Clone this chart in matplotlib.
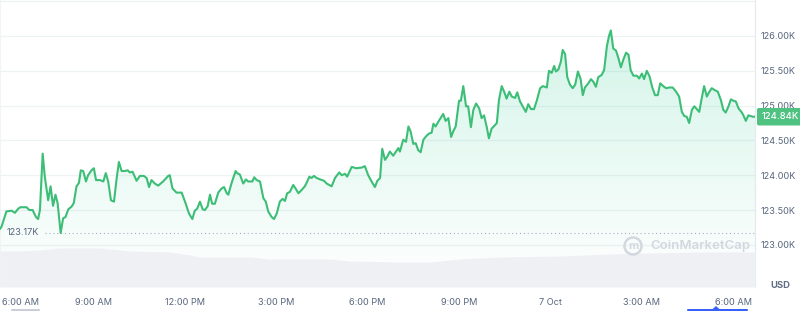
import matplotlib.pyplot as plt
import numpy as np
from matplotlib.colors import LinearSegmentedColormap
from matplotlib.patches import Circle, FancyBboxPatch, Polygon

plt.rcParams['font.family'] = ['Inter', 'DejaVu Sans']

# BTC price (thousand USD), hours after 6:00 AM on 6 Oct
hours = [-0.06, -0.01, 0.15, 0.32, 0.43, 0.54, 0.61, 0.81, 0.90, 1.01,
         1.12, 1.19, 1.25, 1.34, 1.41, 1.52, 1.60, 1.68, 1.76, 1.83,
         1.93, 2.01, 2.09, 2.18, 2.29, 2.36, 2.45, 2.53, 2.59, 2.67,
         2.76, 2.83, 2.94, 3.02, 3.09, 3.22, 3.33, 3.41, 3.49, 3.58,
         3.68, 3.76, 3.84, 3.93, 4.04, 4.13, 4.20, 4.29, 4.42, 4.53,
         4.66, 4.75, 4.83, 4.91, 5.02, 5.13, 5.29, 5.46, 5.51, 5.60,
         5.73, 5.90, 6.01, 6.14, 6.25, 6.33, 6.41, 6.50, 6.59, 6.66,
         6.75, 6.83, 6.90, 6.99, 7.10, 7.21, 7.29, 7.38, 7.43, 7.54,
         7.67, 7.72, 7.81, 7.92, 8.01, 8.08, 8.22, 8.28, 8.36, 8.47,
         8.58, 8.66, 8.74, 8.85, 8.93, 9.02, 9.12, 9.21, 9.29, 9.36,
         9.45, 9.56, 9.65, 9.73, 9.84, 9.94, 10.02, 10.09, 10.16, 10.24,
         10.33, 10.44, 10.57, 10.66, 10.82, 10.93, 11.07, 11.15, 11.26, 11.33,
         11.48, 11.62, 11.81, 11.91, 12.02, 12.13, 12.24, 12.32, 12.41, 12.48,
         12.57, 12.65, 12.73, 12.84, 13.01, 13.06, 13.17, 13.26, 13.34, 13.41,
         13.50, 13.58, 13.66, 13.74, 13.83, 13.92, 14.02, 14.10, 14.16, 14.23,
         14.35, 14.48, 14.56, 14.65, 14.74, 14.81, 14.89, 15.00, 15.06, 15.14,
         15.23, 15.30, 15.39, 15.47, 15.56, 15.66, 15.74, 15.82, 15.91, 15.98,
         16.07, 16.16, 16.24, 16.31, 16.40, 16.48, 16.56, 16.65, 16.73, 16.84,
         16.91, 17.00, 17.09, 17.19, 17.27, 17.36, 17.46, 17.55, 17.66, 17.75,
         17.88, 17.95, 18.04, 18.12, 18.18, 18.26, 18.34, 18.40, 18.48, 18.55,
         18.64, 18.73, 18.81, 18.90, 18.99, 19.06, 19.13, 19.24, 19.33, 19.41,
         19.49, 19.57, 19.68, 19.76, 19.85, 19.92, 19.98, 20.06, 20.15, 20.23,
         20.31, 20.39, 20.48, 20.56, 20.63, 20.72, 20.83, 20.91, 21.00, 21.07,
         21.16, 21.25, 21.34, 21.43, 21.52, 21.60, 21.70, 21.79, 21.90, 22.01,
         22.12, 22.22, 22.31, 22.39, 22.47, 22.55, 22.64, 22.72, 22.80, 22.88,
         22.96, 23.04, 23.13, 23.20, 23.29, 23.40, 23.49, 23.59, 23.67, 23.75,
         23.84, 23.92, 24.00, 24.08, 24.17, 24.28, 24.33, 24.41, 24.49, 24.64,
         24.71]
prices = [123.23, 123.26, 123.48, 123.49, 123.46, 123.52, 123.54, 123.54, 123.50, 123.50,
          123.40, 123.37, 123.50, 124.31, 123.98, 123.64, 123.84, 123.56, 123.72, 123.60,
          123.17, 123.38, 123.40, 123.51, 123.55, 123.60, 123.84, 123.89, 124.07, 124.06,
          123.91, 124.00, 124.07, 124.10, 123.93, 123.93, 123.91, 124.03, 123.91, 123.64,
          123.62, 123.93, 124.19, 124.06, 124.06, 124.07, 124.04, 124.05, 123.92, 123.99,
          123.99, 123.96, 123.83, 123.93, 123.88, 123.85, 123.91, 123.99, 124.00, 123.81,
          123.75, 123.75, 123.62, 123.45, 123.37, 123.49, 123.52, 123.62, 123.51, 123.50,
          123.55, 123.72, 123.59, 123.59, 123.75, 123.81, 123.83, 123.74, 123.72, 123.89,
          124.06, 124.03, 124.01, 123.88, 123.94, 123.91, 123.91, 123.97, 123.93, 123.91,
          123.67, 123.62, 123.48, 123.40, 123.37, 123.45, 123.62, 123.66, 123.63, 123.74,
          123.76, 123.86, 123.80, 123.74, 123.79, 123.84, 123.91, 123.98, 123.96, 123.99,
          123.96, 123.94, 123.92, 123.88, 123.84, 123.96, 124.04, 124.00, 124.02, 123.98,
          124.12, 124.10, 124.11, 124.13, 124.00, 123.91, 123.83, 123.92, 123.96, 124.38,
          124.22, 124.27, 124.34, 124.28, 124.39, 124.34, 124.51, 124.48, 124.70, 124.63,
          124.45, 124.46, 124.36, 124.33, 124.51, 124.56, 124.60, 124.61, 124.74, 124.70,
          124.79, 124.88, 124.78, 124.82, 124.55, 124.63, 124.70, 125.07, 125.07, 125.28,
          124.99, 124.99, 124.69, 124.94, 125.03, 124.96, 124.82, 124.86, 124.69, 124.53,
          124.67, 124.71, 124.75, 125.08, 125.28, 125.20, 125.10, 125.20, 125.13, 125.11,
          125.19, 125.06, 124.99, 124.91, 125.02, 124.95, 124.95, 125.07, 125.25, 125.28,
          125.26, 125.50, 125.47, 125.57, 125.49, 125.52, 125.63, 125.80, 125.74, 125.41,
          125.30, 125.25, 125.30, 125.49, 125.38, 125.15, 125.26, 125.32, 125.38, 125.34,
          125.27, 125.41, 125.44, 125.51, 125.85, 126.00, 126.08, 125.82, 125.79, 125.68,
          125.55, 125.66, 125.76, 125.73, 125.51, 125.43, 125.43, 125.39, 125.46, 125.38,
          125.50, 125.42, 125.26, 125.15, 125.15, 125.32, 125.28, 125.25, 125.26, 125.26,
          125.20, 125.13, 124.91, 124.85, 124.84, 124.75, 124.94, 124.99, 124.95, 124.91,
          125.10, 125.28, 125.13, 125.19, 125.25, 125.22, 125.20, 125.08, 124.94, 124.90,
          124.99, 125.09, 125.07, 125.06, 124.96, 124.90, 124.86, 124.78, 124.86, 124.84,
          124.84]

# 24h volume (billion USD)
vol_hours = [-0.06, 0.59, 1.25, 1.90, 3.22, 3.54, 4.20, 5.51, 6.17, 6.50, 8.14, 8.80,
             10.76, 11.42, 13.06, 14.05, 15.03, 16.34, 18.31, 19.95, 21.27, 22.91, 24.71]
vol_values = [72, 72, 74, 78, 78, 76, 72, 70, 64, 60, 60, 56,
              56, 52, 50, 50, 56, 60, 62, 66, 68, 70, 70]

tick_hours = [0, 3, 6, 9, 12, 15, 18, 21, 24]
tick_labels = ['6:00 AM', '9:00 AM', '12:00 PM', '3:00 PM', '6:00 PM',
               '9:00 PM', '7 Oct', '3:00 AM', '6:00 AM']
price_ticks = [123.0, 123.5, 124.0, 124.5, 125.0, 125.5, 126.0]

W, H = 800, 311
grey = '#58667e'
green = '#3dbe77'

fig = plt.figure(figsize=(8, 3.11), dpi=100)
ax = fig.add_axes([0, 24 / H, 755 / W, 287 / H])
ax.set_xlim(hours[0], hours[-1])
ax.set_ylim(122.394, 126.517)

# volume on a twin axis (twinx resets tick side, so style ax afterwards)
ax2 = ax.twinx()
ax2.set_ylim(0, 574)
ax2.fill_between(vol_hours, vol_values, color='#eff0f4', lw=0)
ax2.set_axis_off()

# grid
for level in price_ticks + [126.5]:
    ax.axhline(level, color='#eff2f5', lw=0.9, zorder=0)

# gradient fill under the line
cmap = LinearSegmentedColormap.from_list('g', [(0.09, 0.78, 0.52, 0.0), (0.09, 0.78, 0.52, 0.2)])
grad = np.linspace(0, 1, 256).reshape(-1, 1)
img = ax.imshow(grad, cmap=cmap, aspect='auto', origin='lower',
                extent=[hours[0], hours[-1], 122.394, 126.3], zorder=1)
poly = Polygon(list(zip(hours, prices)) + [(hours[-1], 122.394), (hours[0], 122.394)],
               closed=True, fc='none', ec='none')
ax.add_patch(poly)
img.set_clip_path(poly)

ax.plot(hours, prices, color=green, lw=1.5, zorder=3, solid_joinstyle='round')

# low marker
low = min(prices)
ax.axhline(low, xmin=45 / 755, xmax=1, color='#a6afbf', lw=0.8, ls=(0, (1, 2.5)), zorder=2)
ax.annotate(f'{low:.2f}K', xy=(7 / 755, low), xycoords=('axes fraction', 'data'),
            va='center', ha='left', fontsize=6.6, color=grey)

# last price tag
last = prices[-1]
ax2.annotate(f'{last:.2f}K', xy=(1.0, (last - 122.394) / (126.517 - 122.394)),
             xycoords='axes fraction',
             xytext=(4.5, 0), textcoords='offset points', va='center', ha='left',
             fontsize=6.8, color='white', weight='medium', zorder=10, annotation_clip=False,
             bbox=dict(boxstyle='round,pad=0.45,rounding_size=0.2', fc='#4fc181', ec='none'))

# axes styling
ax.set_xticks(tick_hours)
ax.set_xticklabels(tick_labels)
ax.get_xticklabels()[0].set_ha('left')
ax.yaxis.tick_right()
ax.set_yticks(price_ticks)
ax.set_yticklabels([f'{p:.2f}K' for p in price_ticks])
ax.tick_params(axis='x', length=0, pad=8, labelsize=6.6, colors=grey)
ax.tick_params(axis='y', length=0, pad=4, labelsize=6.6, colors=grey)
for side in ['top', 'bottom']:
    ax.spines[side].set_visible(False)
ax.spines['right'].set_color('#e6e9ee')
ax.spines['left'].set_color('#f1f3f6')
ax.spines['right'].set_linewidth(0.9)

# watermark
ax2.text(650 / 755, 1 - 246 / 287, 'CoinMarketCap', transform=ax2.transAxes,
         ha='left', va='center', fontsize=9.5, color='#d3d8e0', weight='semibold')
fig.add_artist(Circle((6.33, 0.65), 0.085, transform=fig.dpi_scale_trans,
                      fill=False, ec='#d3d8e0', lw=1.8))
fig.text(6.33 / 8, 0.65 / 3.11, 'm', ha='center', va='center', fontsize=8,
         color='#d3d8e0', weight='bold')

fig.text(780 / W, 1 - 286 / H, 'USD', ha='center', va='center', fontsize=6.8,
         color='#616e85', weight='bold')

# range handles at bottom
fig.add_artist(FancyBboxPatch((0.11, 0.0), 0.29, 0.02, boxstyle='round,pad=0,rounding_size=0.01',
                              transform=fig.dpi_scale_trans, fc='#c9ced9', ec='none'))
fig.add_artist(FancyBboxPatch((6.87, 0.0), 0.61, 0.02, boxstyle='round,pad=0,rounding_size=0.01',
                              transform=fig.dpi_scale_trans, fc='#3861fb', ec='none'))
fig.add_artist(Polygon([(7.12, 0.015), (7.20, 0.015), (7.16, 0.05)], closed=True,
                       transform=fig.dpi_scale_trans, fc='#3861fb', ec='none'))

fig.savefig('out.png', dpi=100, facecolor='white')
